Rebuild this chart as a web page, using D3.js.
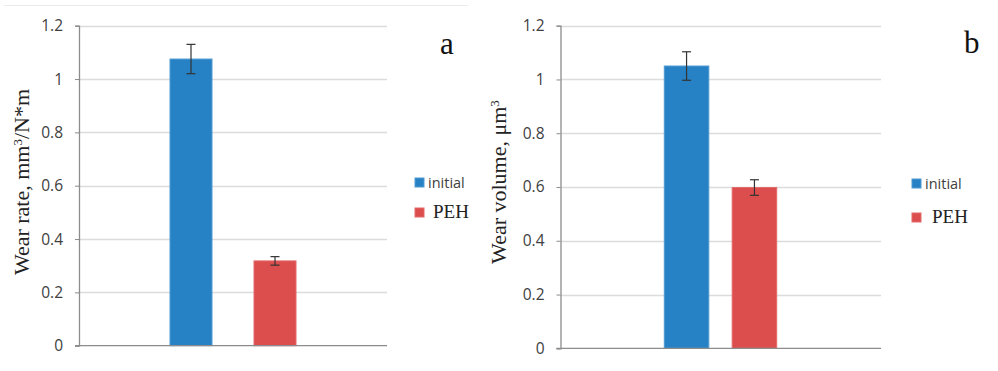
<!DOCTYPE html>
<html>
<head>
<meta charset="utf-8">
<script src="https://cdn.jsdelivr.net/npm/d3@7"></script>
<style>
  body { margin: 0; background: #fff; }
  svg { display: block; }
</style>
</head>
<body>
<div id="chart"></div>
<script>
// series names and values
var series = ["initial", "PEH"];
var wearRate = [1.075, 0.318];
var wearRateErr = [0.055, 0.016];
var wearVolume = [1.05, 0.598];
var wearVolumeErr = [0.053, 0.029];
var yTicks = [0, 0.2, 0.4, 0.6, 0.8, 1, 1.2];

var colors = { initial: "#2782c5", PEH: "#dc4d4d" };
var strokes = { initial: "#4f9ad2", PEH: "#e46a6a" };

var svg = d3.select("#chart").append("svg")
  .attr("width", 998).attr("height", 371);

// faint line on top of panel a, left over from the source figure
svg.append("line")
  .attr("x1", 4).attr("x2", 468).attr("y1", 5.5).attr("y2", 5.5)
  .attr("stroke", "#ececec");

function drawPanel(opt) {
  var g = svg.append("g");

  var y = d3.scaleLinear().domain([0, 1.2]).range([opt.bottom, opt.top]);
  var x = d3.scaleBand().domain(series)
    .range([opt.barLeft, opt.barRight])
    .paddingInner(opt.pad);

  // gridlines
  g.selectAll(".grid")
    .data(yTicks.filter(function(d) { return d > 0; }))
    .enter().append("line")
    .attr("x1", opt.left).attr("x2", opt.right)
    .attr("y1", function(d) { return Math.round(y(d)) + 0.5; })
    .attr("y2", function(d) { return Math.round(y(d)) + 0.5; })
    .attr("stroke", "#dcdcdc").attr("stroke-width", 1.5);

  // y axis
  var ax = g.append("g")
    .attr("transform", "translate(" + opt.left + ",0)")
    .call(d3.axisLeft(y).tickValues(yTicks).tickSize(4).tickPadding(12)
      .tickFormat(function(d) { return d3.format("")(+d.toFixed(1)); }));
  ax.select(".domain").attr("stroke", "#8c8c8c").attr("stroke-width", 1.3);
  ax.selectAll(".tick line").attr("stroke", "#8c8c8c");
  ax.selectAll(".tick text")
    .attr("fill", "#404040")
    .style("font-family", "'Open Sans', sans-serif")
    .style("font-size", "15.5px");

  // bars
  g.selectAll(".bar")
    .data(series)
    .enter().append("rect")
    .attr("x", function(d) { return x(d); })
    .attr("width", x.bandwidth())
    .attr("y", function(d, i) { return y(opt.values[i]); })
    .attr("height", function(d, i) { return y(0) - y(opt.values[i]); })
    .attr("fill", function(d) { return colors[d]; })
    .attr("stroke", function(d) { return strokes[d]; })
    .attr("stroke-width", 1);

  // error bars
  var eb = g.selectAll(".err")
    .data(series)
    .enter().append("g")
    .attr("stroke", "#333").attr("stroke-width", 1.2);
  eb.append("line")
    .attr("x1", function(d) { return x(d) + x.bandwidth() / 2; })
    .attr("x2", function(d) { return x(d) + x.bandwidth() / 2; })
    .attr("y1", function(d, i) { return y(opt.values[i] + opt.errs[i]); })
    .attr("y2", function(d, i) { return y(opt.values[i] - opt.errs[i]); });
  [1, -1].forEach(function(s) {
    eb.append("line")
      .attr("x1", function(d) { return x(d) + x.bandwidth() / 2 - 4.5; })
      .attr("x2", function(d) { return x(d) + x.bandwidth() / 2 + 4.5; })
      .attr("y1", function(d, i) { return y(opt.values[i] + s * opt.errs[i]); })
      .attr("y2", function(d, i) { return y(opt.values[i] + s * opt.errs[i]); });
  });

  // x baseline
  g.append("line")
    .attr("x1", opt.left - 4).attr("x2", opt.right)
    .attr("y1", y(0)).attr("y2", y(0))
    .attr("stroke", "#8c8c8c").attr("stroke-width", 1.3);

  // y title
  var t = g.append("text")
    .attr("transform", "translate(" + opt.titleX + "," + opt.titleY + ") rotate(-90)")
    .attr("text-anchor", "middle")
    .attr("fill", "#222")
    .style("font-family", "'Liberation Serif', 'DejaVu Serif', serif")
    .style("font-size", "22px");
  opt.title.forEach(function(p) {
    var ts = t.append("tspan").text(p.t);
    if (p.sup) ts.attr("baseline-shift", "super").style("font-size", "13px");
  });

  // panel letter
  g.append("text")
    .attr("x", opt.letterX).attr("y", opt.letterY)
    .attr("fill", "#111")
    .style("font-family", "'Liberation Serif', 'DejaVu Serif', serif")
    .style("font-size", "31px")
    .text(opt.letter);

  // legend
  var lg = g.append("g").attr("transform", "translate(" + opt.legX + "," + opt.legY + ")");
  lg.append("rect").attr("x", 0).attr("y", 0).attr("width", 9).attr("height", 9)
    .attr("fill", colors.initial).attr("stroke", strokes.initial);
  lg.append("text").attr("x", 13).attr("y", 9.5)
    .attr("fill", "#404040")
    .style("font-family", "'Open Sans', sans-serif")
    .style("font-size", "14.5px")
    .text("initial");
  lg.append("rect").attr("x", 0).attr("y", opt.legGap).attr("width", 9).attr("height", 9)
    .attr("fill", colors.PEH).attr("stroke", strokes.PEH);
  lg.append("text").attr("x", opt.pehX).attr("y", opt.legGap + 10)
    .attr("fill", "#222")
    .style("font-family", "'Liberation Serif', 'DejaVu Serif', serif")
    .style("font-size", "19px")
    .text("PEH");
}

drawPanel({
  values: wearRate, errs: wearRateErr,
  left: 79, right: 387, top: 25.7, bottom: 345.7,
  barLeft: 170, barRight: 296, pad: 0.5,
  title: [{ t: "Wear rate, mm" }, { t: "3", sup: true }, { t: "/N*m" }],
  titleX: 29, titleY: 182,
  letter: "a", letterX: 440, letterY: 54,
  legX: 415, legY: 178, legGap: 30, pehX: 18
});

drawPanel({
  values: wearVolume, errs: wearVolumeErr,
  left: 560.5, right: 881, top: 25.7, bottom: 348.3,
  barLeft: 664.3, barRight: 776.7, pad: 0.344,
  title: [{ t: "Wear volume, \u03bcm" }, { t: "3", sup: true }],
  titleX: 506, titleY: 182,
  letter: "b", letterX: 964, letterY: 53,
  legX: 912, legY: 179, legGap: 34, pehX: 20
});
</script>
</body>
</html>
